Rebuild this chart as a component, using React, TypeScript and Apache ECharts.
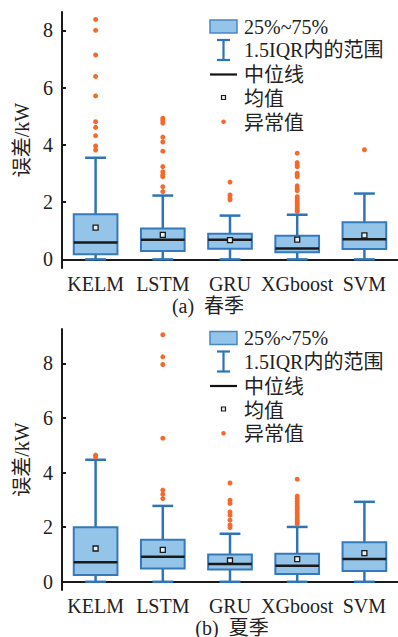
import React, { useEffect, useRef } from "react";
import * as echarts from "echarts";

const categories = ["KELM", "LSTM", "GRU", "XGboost", "SVM"];
const yTicks = [0, 2, 4, 6, 8];

// [min whisker, Q1, median, Q3, max whisker]
const springBox = [
  [0, 0.18, 0.59, 1.58, 3.55],
  [0, 0.29, 0.69, 1.08, 2.23],
  [0, 0.37, 0.69, 0.9, 1.53],
  [0, 0.25, 0.38, 0.83, 1.56],
  [0, 0.36, 0.7, 1.3, 2.3],
];
const springMean = [1.11, 0.86, 0.67, 0.69, 0.84];
const springOutliers = [
  [8.38, 8.0, 7.14, 6.39, 5.71, 4.81, 4.61, 4.32, 3.96, 3.82],
  [4.93, 4.85, 4.76, 4.27, 4.1, 3.78, 3.24, 3.06, 2.96, 2.89, 2.54, 2.37],
  [2.7, 2.25, 2.15, 2.08],
  [3.71, 3.38, 3.3, 3.24, 3.01, 2.95, 2.89, 2.57, 2.48, 2.4, 2.19, 2.12, 2.05, 1.98, 1.92, 1.85, 1.78, 1.72, 1.67],
  [3.83],
];

const summerBox = [
  [0, 0.25, 0.72, 2.0, 4.47],
  [0, 0.49, 0.92, 1.54, 2.78],
  [0, 0.45, 0.65, 1.0, 1.76],
  [0, 0.29, 0.59, 1.03, 2.01],
  [0, 0.4, 0.84, 1.45, 2.93],
];
const summerMean = [1.22, 1.17, 0.78, 0.83, 1.05];
const summerOutliers = [
  [4.64, 4.58],
  [9.05, 8.24, 7.96, 5.26, 3.36, 3.21, 3.05],
  [3.62, 2.99, 2.87, 2.56, 2.44, 2.26, 2.08, 1.99],
  [3.76, 3.14, 3.05, 2.96, 2.87, 2.78, 2.7, 2.62, 2.53, 2.45, 2.36, 2.28, 2.2, 2.12],
  [],
];

const legendNames = ["25%~75%", "1.5IQR内的范围", "中位线", "均值", "异常值"];
const titles = ["(a)  春季", "(b)  夏季"];

const FONT = "'Liberation Serif', 'Times New Roman', 'Noto Sans CJK SC', serif";
const BLUE = "#2e74b7";
const FILL = "#95c4e9";
const ORANGE = "#f5692d";
const TEXT = "#222";

function legendGraphics(dy: number) {
  const els: any[] = [];
  els.push({ type: "rect", shape: { x: 210, y: 20 + dy, width: 27, height: 13 }, style: { fill: FILL, stroke: "#4a86c5", lineWidth: 1.5 } });
  els.push({ type: "line", shape: { x1: 223.5, y1: 40 + dy, x2: 223.5, y2: 60 + dy }, style: { stroke: BLUE, lineWidth: 2.2 } });
  els.push({ type: "line", shape: { x1: 217, y1: 40 + dy, x2: 230, y2: 40 + dy }, style: { stroke: BLUE, lineWidth: 2.2 } });
  els.push({ type: "line", shape: { x1: 217, y1: 60 + dy, x2: 230, y2: 60 + dy }, style: { stroke: BLUE, lineWidth: 2.2 } });
  els.push({ type: "line", shape: { x1: 210, y1: 74.5 + dy, x2: 237, y2: 74.5 + dy }, style: { stroke: "#111", lineWidth: 2.2 } });
  els.push({ type: "rect", shape: { x: 221.5, y: 95.5 + dy, width: 4, height: 4 }, style: { fill: "#e8eef5", stroke: "#1a1a1a", lineWidth: 1.2 } });
  els.push({ type: "circle", shape: { cx: 223.5, cy: 121.7 + dy, r: 2.3 }, style: { fill: ORANGE } });
  const ys = [26.7, 50, 75, 99.3, 122.7];
  legendNames.forEach((n, i) => {
    els.push({
      type: "text",
      x: 244,
      y: ys[i] + dy,
      style: { text: n, fill: TEXT, font: `20px ${FONT}`, verticalAlign: "middle", align: "left" },
    });
  });
  return els;
}

function renderBox(params: any, api: any) {
  const x = api.value(0);
  const lo = api.coord([x, api.value(1)]);
  const q1 = api.coord([x, api.value(2)]);
  const med = api.coord([x, api.value(3)]);
  const q3 = api.coord([x, api.value(4)]);
  const hi = api.coord([x, api.value(5)]);
  const band = api.size([1, 0])[0];
  const bw = band * 0.65;
  const cw = band * 0.31;
  const cx = lo[0];
  const ws = { stroke: BLUE, lineWidth: 2.5 };
  return {
    type: "group",
    children: [
      { type: "line", shape: { x1: cx, y1: hi[1], x2: cx, y2: q3[1] }, style: ws },
      { type: "line", shape: { x1: cx, y1: q1[1], x2: cx, y2: lo[1] }, style: ws },
      { type: "line", shape: { x1: cx - cw / 2, y1: hi[1], x2: cx + cw / 2, y2: hi[1] }, style: ws },
      { type: "line", shape: { x1: cx - cw / 2, y1: lo[1], x2: cx + cw / 2, y2: lo[1] }, style: ws },
      {
        type: "rect",
        shape: { x: cx - bw / 2, y: q3[1], width: bw, height: q1[1] - q3[1] },
        style: { fill: FILL, stroke: "#3579bd", lineWidth: 2 },
      },
      { type: "line", shape: { x1: cx - bw / 2, y1: med[1], x2: cx + bw / 2, y2: med[1] }, style: { stroke: "#1a1a1a", lineWidth: 2.5 } },
    ],
  };
}

function seriesFor(idx: number, box: number[][], mean: number[], outl: number[][]) {
  const boxData = box.map((b, i) => [i, ...b]);
  const meanData = mean.map((m, i) => [i, m]);
  const outData: number[][] = [];
  outl.forEach((arr, i) => arr.forEach((v) => outData.push([i, v])));
  return [
    {
      type: "custom",
      xAxisIndex: idx,
      yAxisIndex: idx,
      renderItem: renderBox,
      encode: { x: 0, y: [1, 2, 3, 4, 5] },
      data: boxData,
      z: 2,
    },
    {
      type: "scatter",
      xAxisIndex: idx,
      yAxisIndex: idx,
      symbol: "rect",
      symbolSize: 5,
      itemStyle: { color: "#e8eef5", borderColor: "#1a1a1a", borderWidth: 1.3, opacity: 1 },
      data: meanData,
      z: 5,
    },
    {
      type: "scatter",
      xAxisIndex: idx,
      yAxisIndex: idx,
      symbol: "circle",
      symbolSize: 5,
      itemStyle: { color: ORANGE, opacity: 1 },
      data: outData,
      z: 4,
    },
  ];
}

function xAxisFor(idx: number) {
  return {
    type: "category",
    gridIndex: idx,
    data: categories,
    boundaryGap: true,
    axisLine: { lineStyle: { color: "#1a1a1a", width: 2 } },
    axisTick: { alignWithLabel: true, inside: true, length: 4, lineStyle: { color: "#1a1a1a", width: 2 } },
    axisLabel: { color: TEXT, fontSize: 20, fontFamily: FONT, margin: 6, interval: 0 },
    splitLine: { show: false },
  };
}

function yAxisFor(idx: number, max: number) {
  return {
    type: "value",
    gridIndex: idx,
    min: -0.3,
    max: max,
    name: "误差/kW",
    nameLocation: "middle",
    nameGap: 25,
    nameRotate: 90,
    nameTextStyle: { color: TEXT, fontSize: 20, fontFamily: FONT },
    axisLine: { show: true, lineStyle: { color: "#1a1a1a", width: 2 } },
    axisTick: { show: true, inside: true, length: 4, customValues: yTicks, lineStyle: { color: "#1a1a1a", width: 2 } },
    axisLabel: { color: TEXT, fontSize: 20, fontFamily: FONT, margin: 9, customValues: yTicks },
    splitLine: { show: false },
  };
}

export default function App() {
  const ref = useRef<HTMLDivElement>(null);
  useEffect(() => {
    if (!ref.current) return;
    const chart = echarts.init(ref.current, undefined, { renderer: "svg" });
    chart.setOption({
      animation: false,
      backgroundColor: "#fff",
      grid: [
        { left: 62, top: 12, width: 338, height: 256 },
        { left: 62, top: 329, width: 338, height: 261 },
      ],
      xAxis: [xAxisFor(0), xAxisFor(1)],
      yAxis: [yAxisFor(0, 8.64), yAxisFor(1, 9.26)],
      series: [
        ...seriesFor(0, springBox, springMean, springOutliers),
        ...seriesFor(1, summerBox, summerMean, summerOutliers),
      ],
      graphic: [
        ...legendGraphics(0),
        ...legendGraphics(311.5),
        { type: "text", x: 208, y: 305.6, style: { text: titles[0], fill: TEXT, font: `20px ${FONT}`, align: "center", verticalAlign: "middle" } },
        { type: "text", x: 232, y: 627.5, style: { text: titles[1], fill: TEXT, font: `20px ${FONT}`, align: "center", verticalAlign: "middle" } },
      ],
    });
    return () => chart.dispose();
  }, []);
  return <div ref={ref} style={{ position: "fixed", left: 0, top: 0, width: 398, height: 637 }} />;
}
